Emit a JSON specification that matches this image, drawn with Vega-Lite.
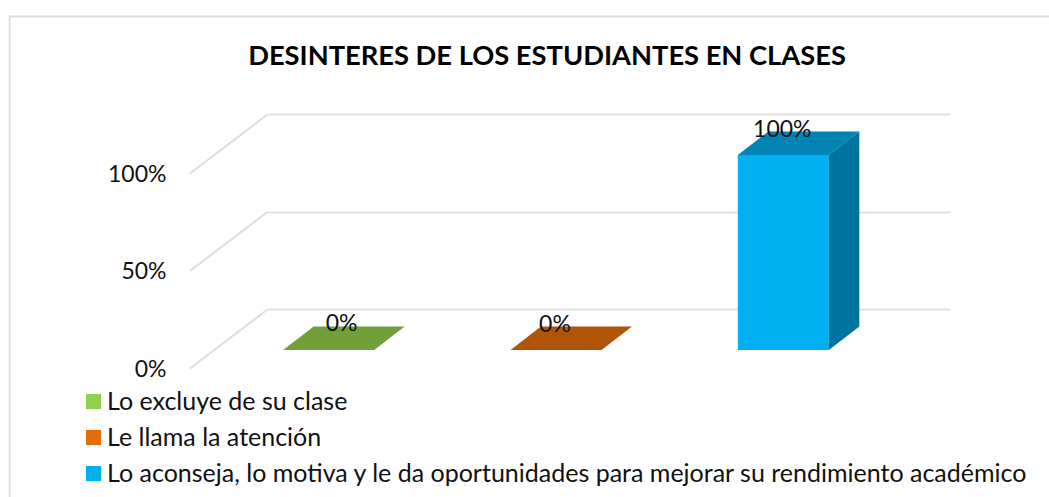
{
"$schema":"https://vega.github.io/schema/vega-lite/v6.json",
"width":682,"height":195,
"autosize":{"type":"none"},
"padding":{"left":268,"top":114,"right":99,"bottom":188},
"background":"white",
"title":{"text":"DESINTERES DE LOS ESTUDIANTES EN CLASES","font":"Lato","fontSize":27.3,"fontWeight":"bold","color":"#000000","anchor":"middle","frame":"group","dx":-62,"offset":0,"dy":58},
"datasets":{
"series":[
{"opcion":"Lo excluye de su clase","valor":0},
{"opcion":"Le llama la atención","valor":0},
{"opcion":"Lo aconseja, lo motiva y le da oportunidades para mejorar su rendimiento académico","valor":1}
],
"ticks":[{"tick":0},{"tick":0.5},{"tick":1}]
},
"data":{"name":"series"},
"config":{"view":{"stroke":null},"font":"Lato"},
"encoding":{
"x":{"field":"opcion","type":"nominal","axis":null,"scale":{"type":"band","paddingInner":0,"paddingOuter":0,"domain":["Lo excluye de su clase","Le llama la atención","Lo aconseja, lo motiva y le da oportunidades para mejorar su rendimiento académico"]}},
"y":{"field":"valor","type":"quantitative","scale":{"domain":[0,1],"nice":false},
"axis":{"values":[0,0.5,1],"format":".0%","title":null,"domain":false,"ticks":false,"grid":true,"gridColor":"#E0E0E0","gridWidth":2,"labelFont":"Lato","labelFontSize":23,"labelColor":"#111111","labelOffset":60,"labelPadding":102}}
},
"layer":[
{"data":{"name":"ticks"},
"mark":{"type":"point","filled":false,"shape":"M-113.67,0L-191.67,59.5","size":4,"stroke":"#DDDDDD","strokeWidth":2,"opacity":1},
"encoding":{"x":{"datum":"Lo excluye de su clase"},"y":{"field":"tick","type":"quantitative"}}},
{"transform":[{"filter":"datum.valor==1"}],
"mark":{"type":"point","filled":false,"shape":"M-826.7,400L-826.7,-97.5L213,-97.5","size":4,"stroke":"#DDDDDD","strokeWidth":2,"opacity":1}},
{"mark":{"type":"bar","size":91,"xOffset":-53,"yOffset":41},
"encoding":{"color":{"field":"opcion","type":"nominal",
"scale":{"domain":["Lo excluye de su clase","Le llama la atención","Lo aconseja, lo motiva y le da oportunidades para mejorar su rendimiento académico"],"range":["#92D050","#E36C0A","#00B0F0"]},
"legend":{"orient":"none","legendX":-187,"legendY":275,"title":null,"symbolType":"square","symbolSize":225,"symbolStrokeWidth":0,"labelFont":"Lato","labelFontSize":25,"labelColor":"#111111","labelLimit":1000,"labelOffset":1,"rowPadding":10,"symbolOpacity":1}}}},
{"mark":{"type":"point","filled":true,"opacity":1,"shape":"M-45.5,0L45.5,0L76,-23.5L-15,-23.5Z","size":4,"xOffset":-53,"yOffset":41},
"encoding":{"fill":{"field":"opcion","type":"nominal","legend":null,
"scale":{"domain":["Lo excluye de su clase","Le llama la atención","Lo aconseja, lo motiva y le da oportunidades para mejorar su rendimiento académico"],"range":["#70A03A","#B05407","#0084B4"]}}}},
{"transform":[{"filter":"datum.valor>0"}],
"mark":{"type":"point","filled":true,"opacity":1,"fill":"#00739E","shape":"M45.5,0L76,-23.5L76,171.5L45.5,195Z","size":4,"xOffset":-53,"yOffset":41}},
{"transform":[{"filter":"datum.opcion=='Lo excluye de su clase'"}],
"mark":{"type":"text","font":"Lato","fontSize":23,"color":"#111111","xOffset":-40,"yOffset":15},
"encoding":{"text":{"field":"valor","type":"quantitative","format":".0%"}}},
{"transform":[{"filter":"datum.opcion!='Lo excluye de su clase'"}],
"mark":{"type":"text","font":"Lato","fontSize":23,"color":"#111111","xOffset":-54,"yOffset":16},
"encoding":{"text":{"field":"valor","type":"quantitative","format":".0%"}}}
],
"resolve":{"scale":{"color":"independent"}}
}
